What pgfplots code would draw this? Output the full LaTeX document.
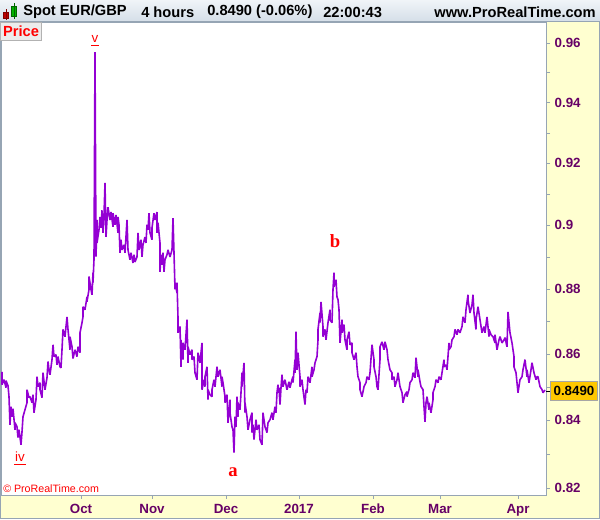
\documentclass[border=0pt]{standalone}
\usepackage{pgfplots}
\pgfplotsset{compat=1.18}
\usepackage{fontspec}
\setmainfont{Liberation Sans}
\newfontfamily\serifbold{Liberation Serif}[BoldFont={Liberation Serif Bold}]

\definecolor{pricecol}{RGB}{148,0,211}
\definecolor{labcol}{RGB}{102,0,102}
\definecolor{bgyellow}{RGB}{255,255,208}
\definecolor{hdtop}{RGB}{240,244,248}
\definecolor{hdbot}{RGB}{212,222,232}
\definecolor{frame}{RGB}{150,165,180}
\definecolor{lastbox}{RGB}{255,200,0}

\begin{document}
\begin{tikzpicture}
% backgrounds (1 unit = 1 px = 0.75pt)
\begin{scope}[x=0.75pt,y=0.75pt]
\fill[white] (0,0) rectangle (600,519);
\fill[bgyellow] (546,0) rectangle (600,497);
\fill[bgyellow] (0,0) rectangle (600,24);
\shade[top color=hdtop,bottom color=hdbot] (0,497) rectangle (600,519);
\draw[frame] (0,497.5) -- (600,497.5);
\draw[frame] (0.5,0) -- (0.5,497) (599.5,0) -- (599.5,497) (0,0.5) -- (600,0.5);
\end{scope}

\begin{axis}[
  at={(0.75pt,18pt)}, anchor=south west,
  scale only axis, width=408.75pt, height=354.75pt,
  ymode=log,
  xmin=1, xmax=546, ymin=0.818, ymax=0.9672,
  axis line style={frame},
  xtick pos=lower, ytick pos=right, yticklabel pos=right,
  tick align=outside, major tick length=3pt,
  tick style={frame},
  xtick={81,152,226,299,373,440,518},
  xticklabels={Oct,Nov,Dec,2017,Feb,Mar,Apr},
  ytick={0.82,0.83,0.84,0.85,0.86,0.87,0.88,0.89,0.90,0.91,0.92,0.93,0.94,0.95,0.96},
  yticklabels={0.82,,0.84,,0.86,,0.88,,0.9,,0.92,,0.94,,0.96},
  minor ytick={},
  ticklabel style={font=\fontsize{10}{11}\selectfont\bfseries, text=labcol},
  yticklabel style={anchor=west},
  xticklabel style={yshift=-0.5pt},
  clip=true
]
\addplot[pricecol, line width=1.2pt, line join=bevel] coordinates {
(2,0.8545) (2,0.8506) (4,0.8521) (6,0.8497) (6,0.8518) (8,0.8503) (9,0.8470) (10,0.8386)
(11,0.8440) (12,0.8410) (13,0.8434) (15,0.8371) (15,0.8392) (17,0.8380) (18,0.8348) (19,0.8371)
(21,0.8327) (22,0.8365) (23,0.8410) (25,0.8431) (27,0.8452) (27,0.8491) (29,0.8467) (30,0.8470)
(32,0.8452) (33,0.8476) (34,0.8422) (36,0.8461) (37,0.8530) (38,0.8500) (40,0.8512) (40,0.8491)
(42,0.8467) (43,0.8542) (45,0.8491) (47,0.8527) (48,0.8576) (49,0.8551) (50,0.8536) (52,0.8582)
(53,0.8627) (54,0.8591) (56,0.8597) (57,0.8566) (58,0.8591) (60,0.8560) (61,0.8557) (62,0.8612)
(63,0.8674) (65,0.8652) (67,0.8713) (68,0.8674) (70,0.8612) (70,0.8652) (72,0.8621) (73,0.8585)
(75,0.8612) (77,0.8591) (78,0.8621) (80,0.8603) (80,0.8664) (82,0.8695) (83,0.8713) (83,0.8744)
(85,0.8735) (87,0.8775) (87,0.8760) (89,0.8798) (89,0.8838) (91,0.8798) (92,0.8781) (93,0.8850)
(93,0.8819) (94,0.8892) (95,0.9569) (96,0.8901) (97,0.9017) (97,0.8944) (99,0.8986) (100,0.9027)
(101,0.8992) (102,0.9048) (103,0.8976) (104,0.9033) (105,0.9136) (106,0.8963) (107,0.9017) (108,0.9058)
(110,0.9017) (111,0.9042) (113,0.8995) (113,0.9039) (115,0.9002) (116,0.9033) (118,0.8976) (118,0.9027)
(119,0.9002) (120,0.8913) (121,0.8954) (122,0.8922) (124,0.8938) (125,0.8913) (127,0.9017) (128,0.8922)
(130,0.8891) (131,0.8913) (133,0.8881) (134,0.8907) (135,0.8884) (137,0.8900) (138,0.8976) (139,0.8922)
(141,0.8954) (142,0.8900) (143,0.8938) (145,0.8963) (146,0.8944) (147,0.9002) (148,0.8986) (149,0.9039)
(150,0.8976) (152,0.8954) (152,0.8992) (154,0.9039) (155,0.9017) (157,0.9042) (157,0.8976) (158,0.9008)
(160,0.8944) (160,0.8853) (161,0.8907) (162,0.8875) (163,0.8913) (164,0.8853) (165,0.8891) (167,0.8907)
(168,0.8922) (170,0.8900) (172,0.8922) (173,0.9023) (174,0.8913) (175,0.8798) (175,0.8819) (177,0.8787)
(177,0.8819) (178,0.8710) (178,0.8664) (180,0.8683) (181,0.8560) (181,0.8642) (183,0.8582) (183,0.8633)
(185,0.8612) (187,0.8704) (188,0.8572) (188,0.8621) (190,0.8597) (192,0.8612) (192,0.8582) (194,0.8591)
(195,0.8542) (197,0.8521) (198,0.8603) (200,0.8572) (202,0.8633) (202,0.8491) (204,0.8521) (205,0.8500)
(205,0.8530) (207,0.8560) (208,0.8461) (208,0.8491) (210,0.8476) (212,0.8470) (212,0.8491) (214,0.8521)
(215,0.8500) (217,0.8560) (218,0.8530) (220,0.8551) (222,0.8500) (222,0.8530) (223,0.8512) (225,0.8470)
(225,0.8452) (227,0.8476) (228,0.8392) (230,0.8461) (230,0.8422) (232,0.8380) (233,0.8371) (234,0.8304)
(235,0.8410) (236,0.8380) (237,0.8470) (238,0.8410) (238,0.8452) (240,0.8431) (241,0.8482) (242,0.8542)
(242,0.8500) (244,0.8572) (245,0.8422) (245,0.8452) (247,0.8410) (248,0.8371) (250,0.8401) (252,0.8422)
(252,0.8363) (253,0.8386) (254,0.8342) (256,0.8401) (257,0.8371) (259,0.8386) (260,0.8342) (262,0.8327)
(263,0.8422) (265,0.8380) (267,0.8363) (268,0.8392) (270,0.8401) (272,0.8422) (273,0.8401) (275,0.8440)
(276,0.8422) (277,0.8482) (278,0.8506) (278,0.8482) (279,0.8497) (280,0.8446) (281,0.8497) (282,0.8536)
(283,0.8500) (285,0.8521) (287,0.8491) (289,0.8515) (290,0.8497) (292,0.8521) (293,0.8530) (293,0.8512)
(295,0.8582) (295,0.8542) (296,0.8667) (297,0.8551) (298,0.8603) (300,0.8530) (300,0.8500) (302,0.8521)
(303,0.8491) (305,0.8446) (306,0.8491) (307,0.8482) (308,0.8530) (310,0.8512) (312,0.8560) (312,0.8530)
(314,0.8551) (315,0.8572) (317,0.8591) (318,0.8642) (318,0.8674) (320,0.8725) (320,0.8695) (321,0.8759)
(323,0.8683) (323,0.8652) (325,0.8674) (326,0.8642) (328,0.8695) (330,0.8735) (330,0.8704) (332,0.8695)
(333,0.8798) (334,0.8850) (334,0.8806) (336,0.8828) (337,0.8775) (338,0.8766) (339,0.8735) (340,0.8633)
(342,0.8704) (342,0.8664) (344,0.8689) (345,0.8642) (347,0.8612) (347,0.8642) (349,0.8667) (350,0.8627)
(352,0.8633) (352,0.8603) (354,0.8582) (356,0.8603) (357,0.8560) (358,0.8530) (360,0.8512) (360,0.8491)
(362,0.8470) (364,0.8500) (366,0.8512) (367,0.8530) (369,0.8521) (370,0.8542) (372,0.8627) (374,0.8582)
(374,0.8560) (376,0.8530) (377,0.8500) (378,0.8491) (380,0.8582) (380,0.8621) (382,0.8636) (384,0.8612)
(385,0.8636) (387,0.8612) (388,0.8582) (390,0.8551) (392,0.8542) (392,0.8521) (394,0.8530) (395,0.8500)
(397,0.8521) (398,0.8542) (400,0.8500) (402,0.8482) (403,0.8452) (405,0.8476) (407,0.8485) (407,0.8470)
(409,0.8491) (410,0.8512) (412,0.8521) (413,0.8542) (415,0.8527) (416,0.8588) (418,0.8530) (418,0.8551)
(420,0.8515) (421,0.8500) (423,0.8491) (424,0.8440) (425,0.8395) (426,0.8452) (427,0.8470) (429,0.8431)
(429,0.8452) (431,0.8422) (433,0.8461) (433,0.8482) (435,0.8500) (436,0.8521) (438,0.8512) (439,0.8530)
(441,0.8521) (442,0.8542) (444,0.8582) (444,0.8560) (446,0.8566) (447,0.8551) (449,0.8633) (449,0.8612)
(451,0.8621) (452,0.8642) (454,0.8652) (455,0.8674) (457,0.8658) (458,0.8674) (460,0.8664) (462,0.8683)
(463,0.8713) (465,0.8695) (466,0.8735) (468,0.8781) (468,0.8766) (470,0.8725) (472,0.8750) (473,0.8781)
(474,0.8725) (476,0.8674) (476,0.8704) (478,0.8744) (480,0.8704) (482,0.8664) (484,0.8683) (485,0.8664)
(487,0.8713) (489,0.8652) (489,0.8674) (491,0.8658) (493,0.8652) (495,0.8633) (495,0.8658) (497,0.8612)
(499,0.8642) (500,0.8652) (502,0.8633) (504,0.8642) (505,0.8649) (507,0.8621) (508,0.8728) (510,0.8664)
(512,0.8633) (514,0.8591) (514,0.8560) (516,0.8542) (518,0.8482) (520,0.8521) (522,0.8530) (523,0.8551)
(525,0.8582) (527,0.8530) (527,0.8551) (529,0.8512) (531,0.8551) (532,0.8572) (534,0.8542) (536,0.8521)
(537,0.8530) (538,0.8530) (540,0.8500) (542,0.8491) (543,0.8482) (545,0.8490)
};
\end{axis}

\begin{scope}[x=0.75pt,y=0.75pt]
% header
\fill[red!75!black, draw=red!50!black] (3.5,501) rectangle (8.5,507);
\draw[red!50!black] (6,499) -- (6,510);
\fill[green!70!black, draw=green!40!black] (11.5,503) rectangle (16.5,513);
\draw[green!40!black] (14,500) -- (14,516);
\node[anchor=west, font=\fontsize{11}{12}\selectfont\bfseries, inner sep=0pt] at (23,507) {Spot EUR/GBP};
\node[anchor=west, font=\fontsize{11}{12}\selectfont\bfseries, inner sep=0pt] at (141,507) {4 hours};
\node[anchor=west, font=\fontsize{11}{12}\selectfont\bfseries, inner sep=0pt] at (207,507) {0.8490 (-0.06\%)};
\node[anchor=west, font=\fontsize{11}{12}\selectfont\bfseries, inner sep=0pt] at (323,507) {22:00:43};
\node[anchor=east, font=\fontsize{11}{12}\selectfont\bfseries, inner sep=0pt] at (596,507) {www.ProRealTime.com};

% Price tag
\fill[gray!15, draw=gray!60] (0.5,479) rectangle (41.5,497);
\node[font=\fontsize{11}{12}\selectfont\bfseries, text=red, inner sep=0pt] at (21,488) {Price};

% last value box
\draw[black, line width=0.75pt] (546,128) -- (550,128);
\fill[lastbox, draw=gray!70] (550.5,119) rectangle (597.5,138);
\node[font=\fontsize{10}{11}\selectfont\bfseries, inner sep=0pt] at (574,128.5) {0.8490};

% wave labels
\node[font=\fontsize{10}{11}\selectfont, text=red, inner sep=0pt] at (95,480) {v};
\draw[red, line width=0.75pt] (91,473) -- (99,473);
\node[font=\fontsize{10}{11}\selectfont, text=red, inner sep=0pt] at (20,62) {iv};
\draw[red, line width=0.75pt] (14,55) -- (26,55);
\node[font=\serifbold\fontsize{14}{16}\selectfont\bfseries, text=red, inner sep=0pt] at (233,47) {a};
\node[font=\serifbold\fontsize{14}{16}\selectfont\bfseries, text=red, inner sep=0pt] at (335,278) {b};
\node[anchor=west, font=\fontsize{8}{9}\selectfont, text=red, inner sep=0pt] at (3,30) {\textcopyright{} ProRealTime.com};
\end{scope}

\pgfresetboundingbox
\useasboundingbox (0,0) rectangle (450pt,389.25pt);
\end{tikzpicture}
\end{document}
